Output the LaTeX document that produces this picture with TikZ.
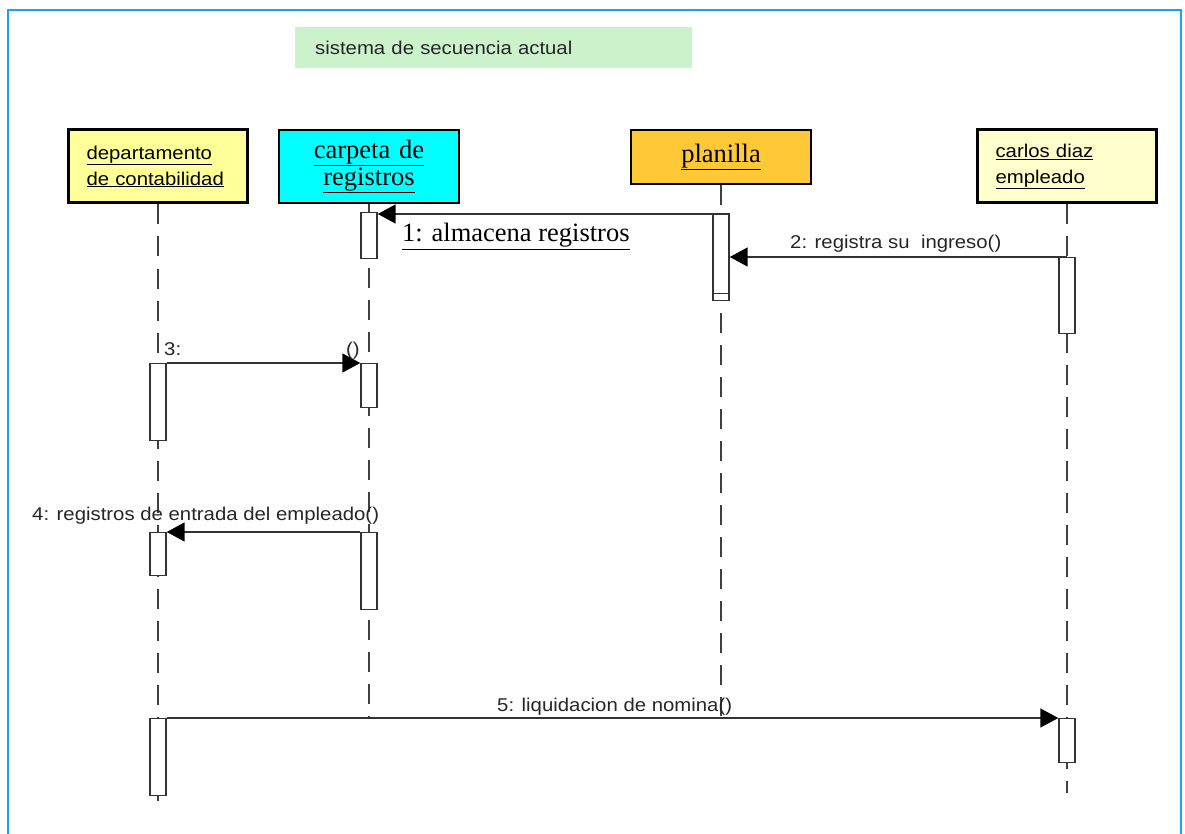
\documentclass[tikz,border=0pt]{standalone}
\usepackage{fontspec}
\setmainfont{Liberation Serif}
\setsansfont[FakeStretch=1.1]{Liberation Sans}
\usetikzlibrary{positioning, calc, arrows.meta}

\definecolor{framecol}{RGB}{30,160,245}
\definecolor{titlegreen}{RGB}{204,242,204}
\definecolor{deptofill}{RGB}{255,255,153}
\definecolor{carpetafill}{RGB}{0,255,255}
\definecolor{planillafill}{RGB}{255,200,55}
\definecolor{carlosfill}{RGB}{255,255,204}

\tikzset{
  objsans/.style={draw, line width=3pt, minimum height=73pt, text width=143pt, inner xsep=18pt,
    align=left, font=\sffamily\fontsize{18.5}{26}\selectfont},
  objserif/.style={draw, line width=2pt, minimum height=73pt, text width=144pt, inner xsep=18pt,
    align=center, font=\fontsize{26.5}{27}\selectfont},
  lifeline/.style={draw=black!75, line width=1.3pt, dash pattern=on 20pt off 12pt},
  bar/.style={draw=black!80, fill=white, line width=1.4pt, minimum width=16pt, inner sep=0pt, anchor=north},
  msg/.style={draw=black!80, line width=1.6pt, -{Triangle[length=18pt,width=19pt,color=black,fill=black]}},
  lbl/.style={anchor=base west, inner sep=0pt, text=black!85, font=\sffamily\fontsize{18.5}{22}\selectfont}
}

\begin{document}
\begin{tikzpicture}[x=1pt, y=-1pt]
  \useasboundingbox[fill=white] (0,0) rectangle (1185,834);
  \draw[framecol, line width=2.5pt] (8,10) rectangle (1181,870);

  % title
  \node[fill=titlegreen, anchor=north west, minimum height=41pt, text width=357pt, inner xsep=20pt,
    align=left, font=\sffamily\fontsize{18.5}{22}\selectfont, text=black!85] (title) at (295,27)
    {sistema de secuencia actual};

  % objects
  \node[objsans, fill=deptofill] (depto) at (158,166.5) {\underline{departamento}\\\underline{de contabilidad}};
  \node[objserif, fill=carpetafill] (carpeta) at (369,166.5) {\underline{carpeta de}\\\underline{registros}};
  \node[objserif, fill=planillafill, minimum height=54pt] (planilla) at (721,157) {\underline{planilla}};
  \node[objsans, fill=carlosfill] (carlos) at (1067,166.5) {\underline{carlos diaz}\\\underline{empleado}};

  % lifelines
  \foreach \o/\y in {depto/812, carpeta/718, planilla/716, carlos/793}{
    \coordinate (\o end) at (\o.south |- 0,\y);
    \draw[lifeline] (\o.south) -- (\o end);
  }

  % activations
  \node[bar, minimum height=46pt] (c1) at (carpeta.south |- 0,212) {};
  \node[bar, minimum height=86pt] (p1) at (planilla.south |- 0,214) {};
  \node[bar, minimum height=76pt] (k1) at (carlos.south |- 0,257) {};
  \node[bar, minimum height=77pt] (d1) at (depto.south |- 0,363) {};
  \node[bar, minimum height=44pt] (c2) at (carpeta.south |- 0,363) {};
  \node[bar, minimum height=43pt] (d2) at (depto.south |- 0,532) {};
  \node[bar, minimum height=77pt] (c3) at (carpeta.south |- 0,532) {};
  \node[bar, minimum height=77pt] (d3) at (depto.south |- 0,718) {};
  \node[bar, minimum height=44pt] (k2) at (carlos.south |- 0,718) {};
  \draw[draw=black!80, line width=1.4pt] ([yshift=8pt]p1.south west) -- ([yshift=8pt]p1.south east);

  % messages
  \draw[msg] (p1.north east) -- (p1.north east -| c1.east);
  \draw[msg] (k1.north) -- (k1.north -| p1.east);
  \draw[msg] (d1.north east) -- (d1.north east -| c2.west);
  \draw[msg] (c3.north west) -- (c3.north west -| d2.east);
  \draw[msg] (d3.north east) -- (d3.north east -| k2.west);

  \node[lbl, text=black, font=\fontsize{26.5}{27}\selectfont] (m1) at (402,242) {\underline{1: almacena registros}};
  \node[lbl] (m2) at (790,248) {2: registra su\ \ ingreso()};
  \node[lbl] (m3) at (164,355) {3:};
  \node[lbl] (m3b) at (346,355) {()};
  \node[lbl] (m4) at (32,520) {4: registros de entrada del empleado()};
  \node[lbl] (m5) at (497,711) {5: liquidacion de nomina()};
\end{tikzpicture}
\end{document}
